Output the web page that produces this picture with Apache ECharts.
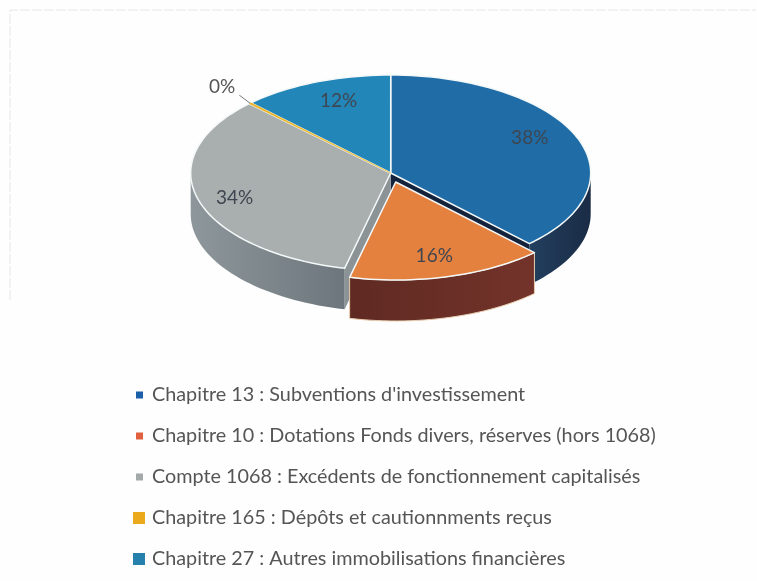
<!DOCTYPE html>
<html><head><meta charset="utf-8">
<style>html,body{margin:0;padding:0;background:#fff}#c{width:757px;height:581px}</style>
<script src="https://cdn.jsdelivr.net/npm/echarts@6/dist/echarts.min.js"></script>
</head><body><div id="c"></div>
<script>
const categories = [
  "Chapitre 13 : Subventions d'investissement",
  "Chapitre 10 : Dotations Fonds divers, réserves (hors 1068)",
  "Compte 1068 : Excédents de fonctionnement capitalisés",
  "Chapitre 165 : Dépôts et cautionnments reçus",
  "Chapitre 27 : Autres immobilisations financières"
];
const values = [37.8, 15.9, 33.8, 0.2, 12.3];
const percentLabels = ["38%", "16%", "34%", "0%", "12%"];

const topColors = ['#1f6ca6', '#e5813f', '#a9aeae', '#e9b324', '#2386b8'];
const legendColors = ['#1a5fa8', '#e0603f', '#a3a8a8', '#eba91e', '#2580ac'];
const sideColors = [['#1a2b45', '#22405f'], ['#73332a', '#5f2a22'], ['#8e979b', '#6c767c'], ['#b08a20', '#b08a20'], ['#1a5f85', '#1a5f85']];
const faceColors = ['#14233c', '#5f2a22', '#8b9396', '#b08a20', '#1a5f85'];
const drawOrder = [1, 5, 2, 4, 3];
const explode = [0, 0.095, 0, 0, 0];
const labelShift = [-5, 1, -2, 0, 2.6];
const labelRadius = [0.78, 0.78, 0.82, 1.2, 0.78];

const cx = 390.7, cy = 173, rx = 200, ry = 98, depth = 41;
const total = values.reduce((a, b) => a + b, 0);
const rad = d => d * Math.PI / 180;
const pt = (x0, y0, deg, r = 1) => [x0 + rx * r * Math.sin(rad(deg)), y0 - ry * r * Math.cos(rad(deg))];
function arc(x0, y0, a, b) {
  const n = Math.max(2, Math.ceil(Math.abs(b - a) / 2)), out = [];
  for (let i = 0; i <= n; i++) out.push(pt(x0, y0, a + (b - a) * i / n));
  return out;
}

function makeRender(idx) {
  return function (params, api) {
    const before = values.slice(0, idx).reduce((a, b) => a + b, 0);
    const a = before / total * 360, b = (before + +api.value(0)) / total * 360, mid = (a + b) / 2;
    const ox = rx * explode[idx] * Math.sin(rad(mid));
    const oy = -ry * explode[idx] * Math.cos(rad(mid));
    const x0 = cx + ox, y0 = cy + oy, kids = [];
    const face = (deg) => {
      const p = pt(x0, y0, deg);
      return { type: 'polygon', shape: { points: [[x0, y0], p, [p[0], p[1] + depth], [x0, y0 + depth]] },
        style: { fill: faceColors[idx] } };
    };
    if (idx === 0) kids.push(face(b));
    if (idx === 2) kids.push(face(a));
    const s = Math.max(a, 90), e = Math.min(b, 270);
    if (e > s) {
      const upper = arc(x0, y0, s, e), lower = upper.map(p => [p[0], p[1] + depth]).reverse();
      kids.push({ type: 'polygon', shape: { points: upper.concat(lower) },
        style: { fill: { type: 'linear', x: 0, y: 0, x2: 1, y2: 0,
          colorStops: [{ offset: 0, color: sideColors[idx][idx === 2 ? 0 : 1] }, { offset: 1, color: sideColors[idx][idx === 2 ? 1 : 0] }] },
          stroke: idx === 1 ? '#e8cdb0' : 'none', lineWidth: idx === 1 ? 1 : 0 } });
    }
    const thin = values[idx] < 1;
    kids.push({ type: 'polygon', shape: { points: [[x0, y0]].concat(arc(x0, y0, a, b)) },
      style: { fill: topColors[idx], stroke: thin ? topColors[idx] : '#f4f8f8', lineWidth: thin ? 0.5 : 1.5, lineJoin: 'round' } });
    const t = pt(x0, y0, mid + labelShift[idx], labelRadius[idx]);
    if (thin) {
      const edge = pt(x0, y0, mid);
      const dir = pt(0, 0, mid, 0.077);
      kids.push({ type: 'line', shape: { x1: edge[0], y1: edge[1], x2: edge[0] + dir[0], y2: edge[1] + dir[1] * 1.5 },
        style: { stroke: '#777', lineWidth: 1 } });
      kids.push({ type: 'text', style: { x: t[0], y: t[1] - 2, text: percentLabels[idx], fill: '#555',
        font: '19px Lato', align: 'center', verticalAlign: 'middle' } });
    } else {
      kids.push({ type: 'text', style: { x: t[0], y: t[1], text: percentLabels[idx], fill: '#3f4650',
        font: '19px Lato', align: 'center', verticalAlign: 'middle' } });
    }
    return { type: 'group', children: kids };
  };
}

const legendTops = [395, 436, 477, 518, 559];
const iconSizes = [7, 7, 7, 12, 12];
const chart = echarts.init(document.getElementById('c'), null, { renderer: 'canvas' });
chart.setOption({
  animation: false,
  backgroundColor: '#fefefe',
  graphic: [
    { type: 'polyline', shape: { points: [[10, 300], [10, 10], [756, 10]] }, silent: true,
      style: { fill: 'none', stroke: '#e6e6e6', lineWidth: 1, lineDash: [10, 2] } }
  ],
  legend: categories.map((name, i) => ({
    data: [name], icon: 'rect', itemWidth: iconSizes[i], itemHeight: iconSizes[i], padding: 0,
    left: iconSizes[i] === 7 ? 136 : 133, top: legendTops[i] - 11, selectedMode: false,
    textStyle: { fontFamily: 'Lato', fontSize: 19.8, color: '#555', height: 22, lineHeight: 22, padding: [0, 0, 0, iconSizes[i] === 7 ? 4 : 2] }
  })),
  series: categories.map((name, i) => ({
    type: 'custom', name, coordinateSystem: 'none', z: drawOrder[i], silent: true,
    itemStyle: { color: legendColors[i] },
    data: [[values[i]]], renderItem: makeRender(i)
  }))
});
</script></body></html>
